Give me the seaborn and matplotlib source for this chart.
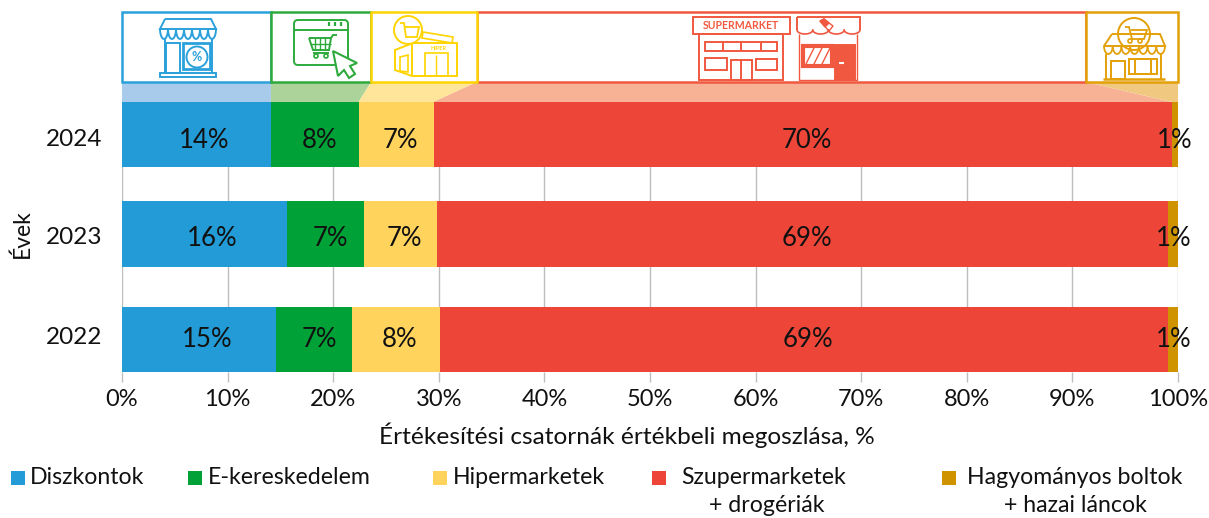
import matplotlib
matplotlib.use('Agg')
import matplotlib.pyplot as plt
import numpy as np
import pandas as pd
import seaborn as sns
from matplotlib.patches import Circle, Polygon, Rectangle, FancyBboxPatch

years = ['2024', '2023', '2022']
channels = ['Diszkontok', 'E-kereskedelem', 'Hipermarketek', 'Szupermarketek', 'Hagyományos boltok']
diszkont = [14.1, 15.6, 14.6]
ekeres = [8.3, 7.3, 7.2]
hiper = [7.1, 6.9, 8.3]
szuper = [69.9, 69.3, 69.0]
hagyomany = [0.6, 0.9, 0.9]
labels_2024 = ['14%', '8%', '7%', '70%', '1%']
labels_2023 = ['16%', '7%', '7%', '69%', '1%']
labels_2022 = ['15%', '7%', '8%', '69%', '1%']

bar_colors = ['#229bd6', '#00a137', '#ffd35c', '#ed4639', '#cf9300']
box_colors = ['#2ba1dc', '#2eaa3c', '#ffd400', '#f0583f', '#e3a008']
band_colors = ['#a8cbec', '#acd39a', '#ffe599', '#f7b195', '#f0c880']
label_shift = [8, 5, 4, 4, 0]
row_shift = [6, 2, 0]

sns.set_theme(style='white')
plt.rcParams['font.family'] = ['Lato', 'DejaVu Sans']
W, H = 1209, 518
X0, X1, Y0, Y1 = 122, 1178, 102, 372
fig = plt.figure(figsize=(W / 100, H / 100), dpi=100)
ax = fig.add_axes([X0 / W, 1 - Y1 / H, (X1 - X0) / W, (Y1 - Y0) / H])

df = pd.DataFrame(np.array([diszkont, ekeres, hiper, szuper, hagyomany]).T, columns=channels)
df.insert(0, 'ev', years)
cum = df[channels].cumsum(axis=1)
cum['ev'] = years

# stacked bars: longest first, shorter ones painted on top
for i in range(4, -1, -1):
    sns.barplot(data=cum, y='ev', x=channels[i], order=years, color=bar_colors[i],
                saturation=1, width=0.64, ax=ax, zorder=3, orient='h', linewidth=0)
# middle row sits a little higher in the original
for p in ax.patches:
    if 0.5 < p.get_y() + p.get_height() / 2 < 1.5:
        p.set_y(p.get_y() - 0.029)

ax.set_xlim(0, 100)
ax.set_ylim(2.32, -0.32)
ax.set_xticks(range(0, 101, 10))
ax.set_xticklabels([f'{v}%' for v in range(0, 101, 10)], fontsize=17, color='#111111')
ax.tick_params(axis='x', length=7.5, width=1, color='#bdbdbd', pad=4.5, bottom=True)
ax.set_yticks([0, 1, 2])
ax.set_yticklabels([])
ax.tick_params(axis='y', length=0)
ax.xaxis.grid(True, color='#bdbdbd', lw=1, zorder=0)
ax.set_axisbelow(True)
for s in ax.spines.values():
    s.set_visible(False)
ax.set_xlabel('')
ax.set_ylabel('')

rows = [labels_2024, labels_2023, labels_2022]
for r, row in enumerate(rows):
    left = 0
    for c, txt in enumerate(row):
        w = df[channels[c]].iloc[r]
        ax.annotate(txt, (left + w / 2, r), xytext=(label_shift[c] * 0.72, -row_shift[r] * 0.72),
                    textcoords='offset points', ha='center', va='center', fontsize=18.5,
                    color='#111111', zorder=5)
        left += w

# overlay in picture pixels for the header, titles and legend
ov = fig.add_axes([0, 0, 1, 1], facecolor='none')
ov.set_xlim(0, W)
ov.set_ylim(H, 0)
ov.axis('off')

for y, yr in zip([140, 238, 338], years):
    ov.text(102, y, yr, ha='right', va='center', fontsize=17.5, color='#111111')
ov.text(627, 435, 'Értékesítési csatornák értékbeli megoszlása, %', ha='center', va='center', fontsize=17.6, color='#111111')
ov.text(22, 234, 'Évek', rotation=90, ha='center', va='center', fontsize=16.5, color='#111111')

# header boxes and bands that lead down to the 2024 bar
tops = [122, 271, 371, 477, 1086, 1178]
ends = X0 + cum[channels].iloc[0].to_numpy() * (X1 - X0) / 100
bottoms = [X0] + list(ends)
for i in [0, 1, 2, 3, 4]:
    ov.add_patch(Polygon([(tops[i], 82), (tops[i + 1], 82), (bottoms[i + 1], 102), (bottoms[i], 102)],
                         fc=band_colors[i], ec='none'))
for i in [3, 0, 1, 2, 4]:
    ov.add_patch(Rectangle((tops[i], 12), tops[i + 1] - tops[i], 70, fc='white', ec=box_colors[i], lw=1.8))


def line(xs, ys, col, lw=1.4):
    ov.plot(xs, ys, color=col, lw=lw, solid_capstyle='butt', solid_joinstyle='miter')


def rect(x, y, w, h, col, lw=1.4, fc='none'):
    ov.add_patch(Rectangle((x, y), w, h, fc=fc, ec=col, lw=lw))


def scallops(x0, x1, n, y, depth, col, lw=1.3):
    step = (x1 - x0) / n
    t = np.linspace(0, np.pi, 12)
    for k in range(n):
        ov.plot(x0 + step * (k + 0.5) + step / 2 * np.cos(t), y + depth * np.sin(t), color=col, lw=lw)


# blue shop
c = box_colors[0]
line([165, 160, 216, 211, 165], [19, 29, 29, 19, 19], c)
scallops(160, 216, 7, 29, 10, c, 1.4)
line([165, 165], [39, 73], c)
line([212, 212], [39, 73], c)
rect(166, 43, 14, 30, c)
rect(183, 43, 27, 26, c, lw=2)
ov.add_patch(Circle((197, 57), 10.5, fc='none', ec=c, lw=1.4))
ov.text(197, 57, '%', color=c, ha='center', va='center', fontsize=9, fontweight='bold')
rect(160, 73, 56, 4, c)

# green browser with cart
c = box_colors[1]
ov.add_patch(FancyBboxPatch((294, 20), 54, 45, boxstyle='round,pad=0,rounding_size=4', fc='none', ec=c, lw=1.4))
line([294, 348], [30, 30], c)
for x in [329, 335, 341]:
    line([x, x], [22, 26], c, 1.6)
line([309, 331, 329, 313, 309], [38, 38, 50, 50, 38], c)
for x in [315, 320, 325]:
    line([x, x], [38, 50], c, 1)
line([310, 331], [44, 44], c, 1)
line([331, 333, 337], [38, 35, 35], c)
line([313, 329], [53, 53], c)
ov.add_patch(Circle((316, 56), 2, fc='white', ec=c, lw=1.2))
ov.add_patch(Circle((326, 56), 2, fc='white', ec=c, lw=1.2))
ov.add_patch(Polygon([(333, 51), (357, 63), (350, 66), (355, 74), (349, 78), (344, 70), (338, 76)],
                     fc='white', ec=c, lw=1.5))

# yellow hypermarket
c = box_colors[2]
ov.add_patch(Polygon([(395, 50), (413, 43), (457, 43), (457, 76), (412, 76), (395, 70)], fc='none', ec=c, lw=1.4))
line([412, 412], [43, 76], c)
ov.add_patch(Polygon([(423, 32), (453, 37), (452, 43), (422, 38)], fc='white', ec=c, lw=1.2))
ov.add_patch(Polygon([(425, 53), (448, 53), (448, 76), (425, 76)], fc='none', ec=c, lw=1.2))
line([436, 436], [55, 76], c, 1)
ov.add_patch(Polygon([(400, 57), (408, 55), (408, 72), (400, 71)], fc='none', ec=c, lw=1.2))
ov.add_patch(Circle((408, 30), 14, fc='white', ec=c, lw=1.4))
line([400, 404, 406, 417, 419, 405], [23, 23, 37, 37, 27, 27], c, 1.3)
ov.text(438, 48, 'HIPER', color=c, ha='center', va='center', fontsize=4, fontweight='bold')

# red supermarket and drugstore
c = box_colors[3]
rect(693, 17, 97, 17, c)
ov.text(741, 25.5, 'SUPERMARKET', color=c, ha='center', va='center', fontsize=7.6, fontweight='bold')
rect(699, 34, 84, 46, c)
rect(705, 42, 72, 9, c)
for x in [723, 741, 761]:
    line([x, x], [42, 51], c)
rect(705, 58, 22, 12, c)
rect(756, 59, 21, 11, c)
rect(731, 60, 21, 20, c)
line([741, 741], [60, 80], c)
line([797, 860, 860], [17, 17, 30], c)
line([797, 797], [17, 30], c)
scallops(797, 860, 4, 30, 4, c, 1.2)
line([799, 799, 857, 857], [34, 80, 80, 34], c, 1)
rect(803, 46, 29, 20, c, lw=3)
for x in [806, 814, 822]:
    line([x, x + 8], [64, 48], c, 1)
rect(835, 45, 20, 35, c, fc=c)
line([839, 844], [63, 63], 'white', 1.5)
ov.add_patch(Polygon([(820, 21), (824, 19), (833, 26), (829, 31)], fc='white', ec=c, lw=1))
ov.add_patch(Polygon([(820, 21), (824, 19), (829, 23), (825, 27)], fc=c, ec=c, lw=1))

# gold traditional shop
c = box_colors[4]
line([1112, 1104, 1165, 1160, 1112], [34, 46, 46, 34, 34], c)
ov.add_patch(Circle((1134, 34), 16, fc='white', ec=c, lw=1.4))
line([1125, 1129, 1132, 1144, 1147, 1131], [27, 27, 39, 39, 30, 30], c, 1.3)
ov.add_patch(Circle((1130, 41), 2, fc='white', ec=c, lw=1.2))
ov.add_patch(Circle((1140, 41), 2, fc='white', ec=c, lw=1.2))
scallops(1104, 1165, 7, 46, 8, c, 1.3)
line([1106, 1106], [54, 79], c)
line([1161, 1161], [54, 79], c)
line([1103, 1165], [79, 79], c, 1.8)
rect(1111, 61, 14, 18, c)
rect(1129, 59, 28, 15, c)
rect(1135, 59, 16, 15, c)

# legend
leg_x = [11, 188, 433, 652, 942]
leg_text = [30, 208, 453, 681, 967]
for i, name in enumerate(channels):
    ov.add_patch(Rectangle((leg_x[i], 471), 14, 14, fc=bar_colors[i], ec='none'))
    ov.text(leg_text[i], 477.5, name, ha='left', va='center', fontsize=16.7, color='#111111')
ov.text(767, 506, '+ drogériák', ha='center', va='center', fontsize=16.7, color='#111111')
ov.text(1075, 506, '+ hazai láncok', ha='center', va='center', fontsize=16.7, color='#111111')

fig.savefig('out.png', dpi=100)
